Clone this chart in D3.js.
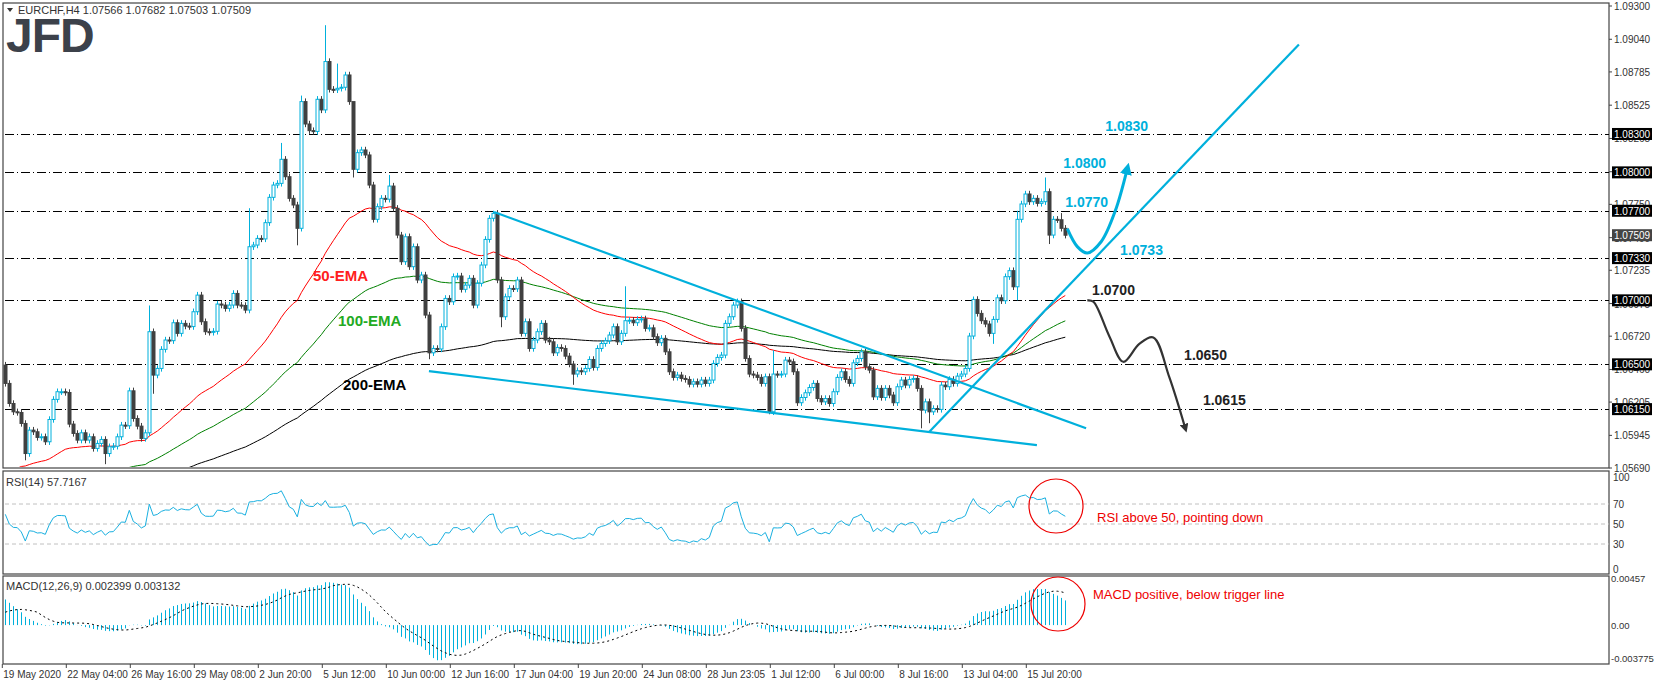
<!DOCTYPE html>
<html>
<head>
<meta charset="utf-8">
<script src="https://cdn.jsdelivr.net/npm/d3@7"></script>
<style>
  body { margin: 0; background: #fff; }
  text { font-family: "Liberation Sans", Arial, sans-serif; }
</style>
</head>
<body>
<script>
// chart size
var width = 1655, height = 685;

// closing prices of each H4 bar
var closes = [
  1.06351,1.06194,1.06129,1.06124,1.06038,1.05803,1.05986,1.05973,1.05929,1.05934,
  1.05895,1.06069,1.06226,1.06286,1.06286,1.06280,1.06033,1.05960,1.05908,1.05965,
  1.05908,1.05934,1.05843,1.05882,1.05913,1.05803,1.05856,1.05860,1.05934,1.06025,
  1.06020,1.06293,1.06077,1.06017,1.05921,1.05965,1.06755,1.06416,1.06468,1.06617,
  1.06690,1.06685,1.06825,1.06742,1.06820,1.06799,1.06795,1.06911,1.07041,1.06833,
  1.06755,1.06750,1.06758,1.06971,1.06963,1.06937,1.06963,1.07054,1.06963,1.06960,
  1.06924,1.07419,1.07432,1.07484,1.07480,1.07607,1.07805,1.07901,1.07914,1.08102,
  1.07966,1.07797,1.07745,1.07563,1.08553,1.08378,1.08326,1.08320,1.08571,1.08488,
  1.08866,1.08649,1.08645,1.08657,1.08665,1.08761,1.08553,1.08024,1.08154,1.08175,
  1.08136,1.07901,1.07633,1.07732,1.07797,1.07790,1.07893,1.07719,1.07510,1.07302,
  1.07497,1.07263,1.07419,1.07159,1.07198,1.06885,1.06590,1.06624,1.06620,1.06794,
  1.07015,1.06989,1.07185,1.07190,1.07086,1.07119,1.07172,1.06963,1.07133,1.07276,
  1.07476,1.07641,1.07680,1.07159,1.06872,1.07028,1.07093,1.07090,1.07159,1.06742,
  1.06833,1.06624,1.06690,1.06755,1.06820,1.06690,1.06676,1.06590,1.06632,1.06624,
  1.06564,1.06502,1.06424,1.06450,1.06442,1.06468,1.06538,1.06476,1.06624,1.06663,
  1.06684,1.06729,1.06794,1.06676,1.06742,1.06841,1.06845,1.06825,1.06851,1.06855,
  1.06781,1.06785,1.06716,1.06669,1.06703,1.06598,1.06442,1.06398,1.06416,1.06390,
  1.06382,1.06345,1.06364,1.06345,1.06377,1.06351,1.06377,1.06507,1.06554,1.06572,
  1.06820,1.06872,1.06963,1.06989,1.06781,1.06546,1.06424,1.06416,1.06398,1.06351,
  1.06403,1.06129,1.06424,1.06420,1.06424,1.06533,1.06520,1.06442,1.06200,1.06241,
  1.06278,1.06319,1.06351,1.06233,1.06207,1.06233,1.06194,1.06286,1.06398,1.06442,
  1.06382,1.06351,1.06512,1.06546,1.06598,1.06481,1.06455,1.06246,1.06312,1.06241,
  1.06312,1.06260,1.06200,1.06325,1.06377,1.06338,1.06382,1.06390,1.06312,1.06142,
  1.06207,1.06129,1.06155,1.06148,1.06338,1.06325,1.06382,1.06351,1.06408,1.06424,
  1.06468,1.06721,1.07007,1.06898,1.06841,1.06815,1.06742,1.06851,1.07020,1.06997,
  1.07185,1.07232,1.07106,1.07633,1.07753,1.07831,1.07771,1.07797,1.07758,1.07771,
  1.07849,1.07510,1.07633,1.07630,1.07563,1.07509
];
var firstOpen = 1.06494;

// a few long wicks (bar index -> price)
var wickHighs = {36: 1.06960, 61: 1.07720, 69: 1.08230, 74: 1.08600, 80: 1.09150, 83: 1.08850,
                 87: 1.08450, 96: 1.07980, 122: 1.07700, 155: 1.07110, 192: 1.06610,
                 242: 1.07030, 253: 1.07700, 260: 1.07960, 264: 1.07682};
var wickLows = {5: 1.05750, 25: 1.05720, 37: 1.06270, 73: 1.07430, 87: 1.07960, 106: 1.06540,
                124: 1.06790, 142: 1.06340, 191: 1.06110, 229: 1.06000, 231: 1.06040,
                247: 1.06660, 253: 1.07000, 261: 1.07440};

// time axis labels, one every 16 bars
var timeLabels = ["19 May 2020","22 May 04:00","26 May 16:00","29 May 08:00","2 Jun 20:00",
  "5 Jun 12:00","10 Jun 00:00","12 Jun 16:00","17 Jun 04:00","19 Jun 20:00","24 Jun 08:00",
  "28 Jun 23:05","1 Jul 12:00","6 Jul 00:00","8 Jul 16:00","13 Jul 04:00","15 Jul 20:00"];

// price axis ticks
var priceTicks = [1.09300,1.09040,1.08785,1.08525,1.08265,1.08005,1.07750,1.07490,1.07235,
  1.06975,1.06720,1.06460,1.06205,1.05945,1.05690];

// horizontal support / resistance levels
var levels = [1.0830, 1.0800, 1.0770, 1.0733, 1.0700, 1.0650, 1.0615];
var lastPrice = 1.07509;

// trend lines: [barIndex, price] endpoints
var upperChannel = [[122.2, 1.0769], [270.2, 1.0600]];
var lowerChannel = [[105.9, 1.06447], [257.9, 1.05869]];
var upTrend = [[230.9, 1.0597], [323.4, 1.0900]];
var bullPath = [[265.5, 1.0756], [268, 1.0742], [270.5, 1.0737], [274, 1.0746], [277.5, 1.0770], [280.5, 1.0803]];
var bearPath = [[270.5, 1.0700], [272, 1.0699], [276, 1.0672], [279.5, 1.0652], [283.5, 1.0666], [287, 1.0671], [291, 1.0640], [295, 1.0600]];

var emaSeeds = {50: 1.0560, 100: 1.0541, 200: 1.0539};

function ema(vals, n, seed) {
  var k = 2 / (n + 1), e = seed;
  return vals.map(function(v) { e = v * k + e * (1 - k); return e; });
}

var bars = closes.map(function(c, i) {
  var o = i === 0 ? firstOpen : closes[i - 1];
  var hi = wickHighs[i] !== undefined ? wickHighs[i] : Math.max(o, c) + 0.00025;
  var lo = wickLows[i] !== undefined ? wickLows[i] : Math.min(o, c) - 0.00025;
  return {i: i, o: o, c: c, h: hi, l: lo};
});

var ema50 = ema(closes, 50, emaSeeds[50]);
var ema100 = ema(closes, 100, emaSeeds[100]);
var ema200 = ema(closes, 200, emaSeeds[200]);

// RSI(14), Wilder smoothing
var ag = 0.00040, al = 0.00016;
var rsi = closes.map(function(c, i) {
  var d = c - (i === 0 ? firstOpen : closes[i - 1]);
  ag = (ag * 13 + Math.max(d, 0)) / 14;
  al = (al * 13 + Math.max(-d, 0)) / 14;
  return 100 - 100 / (1 + ag / al);
});

// MACD(12,26,9)
var e12 = ema(closes, 12, 1.0637), e26 = ema(closes, 26, 1.0610);
var macd = closes.map(function(c, i) { return e12[i] - e26[i]; });
var signal = macd.map(function(m, i) {
  var s = 0;
  for (var j = i - 8; j <= i; j++) s += j < 0 ? 0.0011 : macd[j];
  return s / 9;
});

var svg = d3.select("body").append("svg").attr("width", width).attr("height", height);

var left = 3, right = 1609;
var x = d3.scaleLinear().domain([0, 1]).range([5.3, 9.3]);
var y = d3.scaleLinear().domain([1.0569, 1.0930]).range([468, 6]);
var yr = d3.scaleLinear().domain([0, 100]).range([574, 474]);
var ym = d3.scaleLinear().domain([-0.003775, 0.00457]).range([664, 578]);

var blue = "#00b0dc", dark = "#404040";

// panel frames
[[3, 3, 465], [3, 471, 103], [3, 576, 88]].forEach(function(p) {
  svg.append("rect").attr("x", left).attr("y", p[1]).attr("width", right - left).attr("height", p[2])
    .attr("fill", "none").attr("stroke", "#444").attr("stroke-width", 1.2);
});

var main = svg.append("g");

// level lines
main.selectAll(".lvl").data(levels).enter().append("line")
  .attr("x1", left + 2).attr("x2", right).attr("y1", function(d) { return Math.round(y(d)) + 0.5; })
  .attr("y2", function(d) { return Math.round(y(d)) + 0.5; })
  .attr("stroke", "#000").attr("stroke-dasharray", "9,3,1,3");

// EMAs
var line = function(arr, sc) {
  return d3.line().x(function(d, i) { return x(i); }).y(function(d) { return sc(d); })(arr);
};
svg.append("clipPath").attr("id", "mainclip").append("rect")
  .attr("x", left).attr("y", 4).attr("width", right - left).attr("height", 463);
[[ema200, "#000"], [ema100, "#008000"], [ema50, "#ff0000"]].forEach(function(e) {
  main.append("path").attr("d", line(e[0], y)).attr("fill", "none").attr("stroke", e[1])
    .attr("stroke-width", 1).attr("clip-path", "url(#mainclip)");
});

// candles
var cg = main.selectAll(".bar").data(bars).enter().append("g");
cg.append("line")
  .attr("x1", function(d) { return Math.round(x(d.i)) + 0.5; })
  .attr("x2", function(d) { return Math.round(x(d.i)) + 0.5; })
  .attr("y1", function(d) { return y(d.h); }).attr("y2", function(d) { return y(d.l); })
  .attr("stroke", function(d) { return d.c >= d.o ? blue : dark; });
cg.append("rect")
  .attr("x", function(d) { return Math.round(x(d.i)) - 1; })
  .attr("width", 3)
  .attr("y", function(d) { return y(Math.max(d.o, d.c)); })
  .attr("height", function(d) { return Math.max(1, Math.abs(y(d.o) - y(d.c))); })
  .attr("fill", function(d) { return d.c >= d.o ? "#fff" : dark; })
  .attr("stroke", function(d) { return d.c >= d.o ? blue : dark; })
  .attr("stroke-width", 1);

// trend lines
var pt = d3.line().x(function(d) { return x(d[0]); }).y(function(d) { return y(d[1]); });
[upperChannel, lowerChannel, upTrend].forEach(function(l) {
  main.append("path").attr("d", pt(l)).attr("stroke", blue).attr("stroke-width", 2.2).attr("fill", "none");
});

// scenario arrows
var defs = svg.append("defs");
[["ab", blue], ["ak", "#333"]].forEach(function(m) {
  defs.append("marker").attr("id", m[0]).attr("viewBox", "0 0 10 10").attr("refX", 5).attr("refY", 5)
    .attr("markerWidth", 4).attr("markerHeight", 4).attr("orient", "auto")
    .append("path").attr("d", "M0,0L10,5L0,10z").attr("fill", m[1]);
});
var smooth = d3.line().x(function(d) { return x(d[0]); }).y(function(d) { return y(d[1]); })
  .curve(d3.curveCatmullRom);
main.append("path").attr("d", smooth(bullPath)).attr("stroke", blue).attr("stroke-width", 3)
  .attr("fill", "none").attr("marker-end", "url(#ab)");
main.append("path").attr("d", smooth(bearPath)).attr("stroke", "#333").attr("stroke-width", 2.2)
  .attr("fill", "none").attr("marker-end", "url(#ak)");

// level annotations
var notes = [
  [1.0830, 275, -3, blue], [1.0800, 264.5, -4, blue], [1.0770, 265, -4, blue],
  [1.0733, 278.7, -3, blue], [1.0700, 271.7, -5, "#222"], [1.0650, 294.7, -4, "#222"], [1.0615, 299.4, -4, "#222"]
];
main.selectAll(".note").data(notes).enter().append("text")
  .attr("x", function(d) { return x(d[1]); }).attr("y", function(d) { return y(d[0]) + d[2]; })
  .attr("fill", function(d) { return d[3]; }).attr("font-size", 14).attr("font-weight", "bold")
  .text(function(d) { return d[0].toFixed(4); });

// EMA labels
[["50-EMA", 313, 281, "#ff2020"], ["100-EMA", 338, 326, "#22aa22"], ["200-EMA", 343, 390, "#000"]].forEach(function(t) {
  main.append("text").attr("x", t[1]).attr("y", t[2]).attr("fill", t[3])
    .attr("font-size", 15).attr("font-weight", "bold").text(t[0]);
});

// price axis
var ax = svg.append("g");
ax.selectAll(".pt").data(priceTicks).enter().append("text")
  .attr("x", 1614).attr("y", function(d) { return y(d) + 4; })
  .attr("font-size", 10).attr("fill", "#333").text(function(d) { return d.toFixed(5); });
ax.selectAll(".tk").data(priceTicks).enter().append("line")
  .attr("x1", right).attr("x2", right + 3).attr("y1", function(d) { return y(d); }).attr("y2", function(d) { return y(d); })
  .attr("stroke", "#444");
var boxes = levels.map(function(l) { return {v: l, fill: "#000"}; }).concat([{v: lastPrice, fill: "#444"}]);
var bg = ax.selectAll(".box").data(boxes).enter().append("g");
bg.append("rect").attr("x", 1612).attr("y", function(d) { return y(d.v) - 6; }).attr("width", 40).attr("height", 12)
  .attr("fill", function(d) { return d.fill; });
bg.append("text").attr("x", 1614).attr("y", function(d) { return y(d.v) + 4; })
  .attr("font-size", 10).attr("fill", "#fff").text(function(d) { return d.v.toFixed(5); });

// RSI panel
[70, 50, 30].forEach(function(v) {
  svg.append("line").attr("x1", left + 2).attr("x2", right).attr("y1", yr(v)).attr("y2", yr(v))
    .attr("stroke", "#c0c0c0").attr("stroke-dasharray", "4,3");
});
svg.append("path").attr("d", line(rsi, yr)).attr("fill", "none").attr("stroke", "#1ab0e0").attr("stroke-width", 1);
[100, 70, 50, 30, 0].forEach(function(v) {
  svg.append("text").attr("x", 1613).attr("y", yr(v) + (v === 100 ? 7 : v === 0 ? -1 : 4)).attr("font-size", 10).attr("fill", "#333").text(v);
});

// MACD panel
svg.selectAll(".hist").data(macd).enter().append("line")
  .attr("x1", function(d, i) { return Math.round(x(i)) + 0.5; })
  .attr("x2", function(d, i) { return Math.round(x(i)) + 0.5; })
  .attr("y1", ym(0)).attr("y2", function(d) { return ym(d); })
  .attr("stroke", blue).attr("stroke-width", 1);
svg.append("path").attr("d", line(signal, ym)).attr("fill", "none").attr("stroke", "#000")
  .attr("stroke-dasharray", "2,3");
[0.00457, 0, -0.003775].forEach(function(v) {
  svg.append("text").attr("x", 1611).attr("y", ym(v) + (v > 0 ? 4 : v < 0 ? -2 : 4)).attr("font-size", 9.5)
    .attr("fill", "#333").text(v === 0 ? "0.00" : v);
});

// indicator callouts
svg.append("circle").attr("cx", 1056).attr("cy", 506).attr("r", 27).attr("fill", "none").attr("stroke", "#e00").attr("stroke-width", 1.2);
svg.append("text").attr("x", 1097).attr("y", 522).attr("fill", "#e00").attr("font-size", 13).text("RSI above 50, pointing down");
svg.append("circle").attr("cx", 1058).attr("cy", 604).attr("r", 27).attr("fill", "none").attr("stroke", "#e00").attr("stroke-width", 1.2);
svg.append("text").attr("x", 1093).attr("y", 599).attr("fill", "#e00").attr("font-size", 13).text("MACD positive, below trigger line");

// time axis
svg.selectAll(".tl").data(timeLabels).enter().append("text")
  .attr("x", function(d, i) { return x(i * 16) - 2; }).attr("y", 678)
  .attr("font-size", 10).attr("fill", "#333").text(function(d) { return d; });
svg.selectAll(".tt").data(timeLabels).enter().append("line")
  .attr("x1", function(d, i) { return x(i * 16) - 3; }).attr("x2", function(d, i) { return x(i * 16) - 3; })
  .attr("y1", 664).attr("y2", 668).attr("stroke", "#444");

// headers
svg.append("path").attr("d", "M7,8L13,8L10,12z").attr("fill", "#333");
svg.append("text").attr("x", 18).attr("y", 14).attr("font-size", 11).attr("fill", "#333")
  .text("EURCHF,H4  1.07566 1.07682 1.07503 1.07509");
svg.append("text").attr("x", 6).attr("y", 486).attr("font-size", 11).attr("fill", "#333").text("RSI(14) 57.7167");
svg.append("text").attr("x", 6).attr("y", 590).attr("font-size", 11).attr("fill", "#333").text("MACD(12,26,9) 0.002399 0.003132");

// JFD logo
svg.append("text").attr("x", 6).attr("y", 52).attr("font-size", 48).attr("font-weight", "bold")
  .attr("fill", "#3c414a").attr("letter-spacing", -1).text("JFD");
</script>
</body>
</html>
